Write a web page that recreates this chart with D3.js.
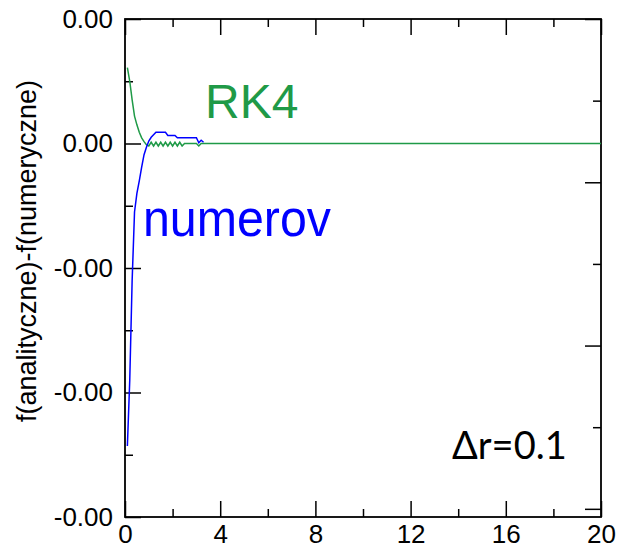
<!DOCTYPE html>
<html>
<head>
<meta charset="utf-8">
<script src="https://cdn.jsdelivr.net/npm/d3@7"></script>
<style>
  html, body { margin: 0; padding: 0; background: #fff; }
  svg { display: block; }
</style>
</head>
<body>
<svg id="chart" width="619" height="558"></svg>
<script>
// ---- data ----
const rValues = [0.1,0.2,0.3,0.4,0.5,0.6,0.7,0.8,0.9,1.0,1.1,1.2,1.3,1.4,1.5,1.6,1.7,1.8,1.9,2.0,2.1,2.2,2.3,2.4,2.5,2.6,2.7,2.8,2.9,3.0,3.1,3.2,3.3];
const numerovErr = [-0.00243,-0.00190,-0.00110,-0.00055,-0.00040,-0.00030,-0.00019,-0.00009,-0.00003,0.00002,0.00005,0.00007,0.00009,0.00009,0.00009,0.00009,0.00009,0.000065,0.000064,0.000064,0.000064,0.000046,0.000046,0.000046,0.000046,0.000046,0.000046,0.000046,0.000046,0.000046,0.000006,0.000026,0.00001];
const rk4R = [0.1,0.2,0.3,0.4,0.5,0.6,0.7,0.8,0.9,1.0,1.1,1.2,1.3,1.4,1.5,1.6,1.7,1.8,1.9,2.0,2.1,2.2,2.3,2.4,2.5,2.6,2.7,2.8,2.9,3.0,3.1,3.2,3.3,20];
const rk4Err = [0.00061,0.00050,0.00035,0.00022,0.00015,0.00009,0.000045,0.000015,-0.00001,-0.00002,0.00001,-0.00002,0.00001,-0.00002,0.00001,-0.00002,0.00001,-0.00002,0.00001,-0.00002,0.00001,-0.00002,0.00001,-0.00002,0,0,0,0,0,0,-0.00002,0,0,0];

const xDomain = [0, 20];
const yDomain = [-0.003, 0.001];
const xMajorTicks = [0, 4, 8, 12, 16, 20];
const xTickLabels = ["0", "4", "8", "12", "16", "20"];
const xMinorTicks = [2, 6, 10, 14, 18];
const yMajorTicks = [0.001, 0, -0.001, -0.002, -0.003];
const yTickLabels = ["0.00", "0.00", "-0.00", "-0.00", "-0.00"];
const yMinorTicks = [0.0005, -0.0005, -0.0015, -0.0025];
// secondary (unlabelled) right axis
const rightDomain = [-0.05, 3];
const rightMajorTicks = [0, 1, 2, 3];
const rightMinorTicks = [0.5, 1.5, 2.5];

const yTitle = "f(analityczne)-f(numeryczne)";
const seriesNames = ["RK4", "numerov"];
const note = "\u0394r=0.1";

// ---- layout ----
const mLeft = 125, mRight = 601, mTop = 19, mBottom = 517;
const green = "#1f9a47", blue = "#0000ff";
const svg = d3.select("#chart");

const x = d3.scaleLinear().domain(xDomain).range([mLeft, mRight]);
const y = d3.scaleLinear().domain(yDomain).range([mBottom, mTop]);
const yR = d3.scaleLinear().domain(rightDomain).range([mBottom, mTop]);

const font = "Liberation Sans, Arial, sans-serif";

function styleAxis(g) {
  g.select(".domain").remove();
  g.selectAll(".tick line").attr("stroke", "#000").attr("stroke-width", 1.5);
  g.selectAll(".tick text").attr("font-family", font).attr("font-size", 26).attr("fill", "#000");
}

// bottom
svg.append("g").attr("transform", `translate(0,${mBottom})`)
  .call(d3.axisBottom(x).tickValues(xMajorTicks).tickSize(-16).tickPadding(8)
    .tickFormat((d, i) => xTickLabels[i]))
  .call(styleAxis);
svg.append("g").attr("transform", `translate(0,${mBottom})`)
  .call(d3.axisBottom(x).tickValues(xMinorTicks).tickSize(-8).tickFormat(""))
  .call(styleAxis);
// top
svg.append("g").attr("transform", `translate(0,${mTop})`)
  .call(d3.axisTop(x).tickValues(xMajorTicks).tickSize(-16).tickFormat(""))
  .call(styleAxis);
svg.append("g").attr("transform", `translate(0,${mTop})`)
  .call(d3.axisTop(x).tickValues(xMinorTicks).tickSize(-8).tickFormat(""))
  .call(styleAxis);
// left
svg.append("g").attr("transform", `translate(${mLeft},0)`)
  .call(d3.axisLeft(y).tickValues(yMajorTicks).tickSize(-16).tickPadding(12)
    .tickFormat((d, i) => yTickLabels[i]))
  .call(styleAxis);
svg.append("g").attr("transform", `translate(${mLeft},0)`)
  .call(d3.axisLeft(y).tickValues(yMinorTicks).tickSize(-8).tickFormat(""))
  .call(styleAxis);
// right (secondary)
svg.append("g").attr("transform", `translate(${mRight},0)`)
  .call(d3.axisRight(yR).tickValues(rightMajorTicks).tickSize(-16).tickFormat(""))
  .call(styleAxis);
svg.append("g").attr("transform", `translate(${mRight},0)`)
  .call(d3.axisRight(yR).tickValues(rightMinorTicks).tickSize(-8).tickFormat(""))
  .call(styleAxis);

// frame
svg.append("rect").attr("x", mLeft).attr("y", mTop)
  .attr("width", mRight - mLeft).attr("height", mBottom - mTop)
  .attr("fill", "none").attr("stroke", "#000").attr("stroke-width", 1.8);

// lines
const line = d3.line().x(d => x(d[0])).y(d => y(d[1]));
const rkData = rk4R.map((r, i) => [r, rk4Err[i]]);
const nuData = rValues.map((r, i) => [r, numerovErr[i]]);

svg.append("path").datum(rkData).attr("d", line)
  .attr("fill", "none").attr("stroke", green).attr("stroke-width", 1.5);
svg.append("path").datum(nuData).attr("d", line)
  .attr("fill", "none").attr("stroke", blue).attr("stroke-width", 1.5);

// labels
svg.append("text").attr("x", 205).attr("y", 118)
  .attr("font-family", font).attr("font-size", 48).attr("fill", green)
  .text(seriesNames[0]);
svg.append("text").attr("x", 143).attr("y", 236)
  .attr("font-family", font).attr("font-size", 52).attr("fill", blue)
  .attr("textLength", 188).attr("lengthAdjust", "spacingAndGlyphs")
  .text(seriesNames[1]);
svg.append("text").attr("x", 452).attr("y", 459)
  .attr("font-family", "Lato, 'Open Sans', sans-serif").attr("font-size", 38).attr("fill", "#000")
  .text(note);

// y title
svg.append("text")
  .attr("transform", `translate(36,251) rotate(-90)`)
  .attr("text-anchor", "middle")
  .attr("font-family", font).attr("font-size", 27).attr("fill", "#000")
  .text(yTitle);
</script>
</body>
</html>
